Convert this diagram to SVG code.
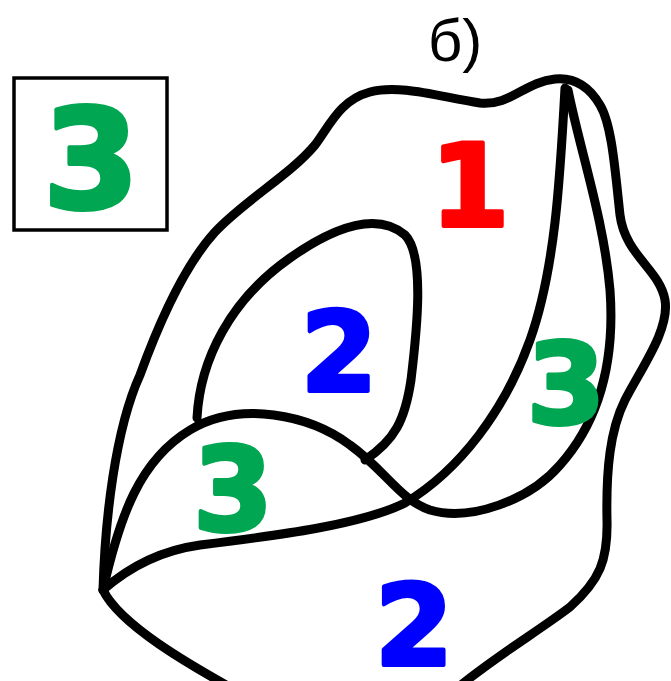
<svg xmlns="http://www.w3.org/2000/svg" width="671" height="681" viewBox="0 0 671 681">
<style>
.ln{fill:none;stroke:#000;stroke-width:9;stroke-linecap:round;stroke-linejoin:round}
.num{font-family:"DejaVu Sans","Liberation Sans",sans-serif;font-weight:bold;text-anchor:middle;stroke-width:4;stroke-linejoin:round}
.g{fill:#00a651;stroke:#00a651}.r{fill:#ff0000;stroke:#ff0000}.b{fill:#0000ff;stroke:#0000ff}
</style>
<rect width="671" height="681" fill="#fff"/>
<g id="legend-box">
<rect x="14" y="78" width="153" height="152" fill="none" stroke="#000" stroke-width="3.5"/>
<text class="num g" x="91" y="208" font-size="139">3</text>
</g>
<g id="caption">
<text x="428" y="61" font-family="Liberation Sans,Arial,sans-serif" font-size="60">б)</text>
</g>
<g id="connectors">
<path id="outline" class="ln" d="M235,690 C190,665 120,625 103,590 C105,520 115,430 140,375 C160,320 185,265 215,232 C245,200 290,175 315,145 C330,125 340,100 370,92 C400,84 440,97 480,103 C510,106 525,82 555,79 C575,77 590,88 600,105 C612,125 615,170 620,215 C625,255 660,270 665,300 C670,330 640,370 625,400 C610,430 606,470 607,520 C608,560 600,580 570,607 C540,630 490,660 455,690"/>
<path id="curve-a" class="ln" d="M565,88 C560,180 555,270 530,340 C505,410 460,470 405,503 C360,525 280,535 200,545 C150,552 120,575 103,590"/>
<path id="curve-b" class="ln" d="M103,590 C120,515 140,460 190,430 C240,400 310,415 350,445 C385,470 400,500 430,510 C470,522 530,500 560,465 C600,420 615,360 610,290 C604,220 580,150 568,90"/>
<path id="inner-loop" class="ln" d="M197,418 C200,360 230,300 290,258 C330,230 375,210 405,235 C425,255 417,330 411,380 C405,420 395,440 365,460"/>
</g>
<g id="region-1"><text class="num r" x="470" y="226" font-size="114">1</text></g>
<g id="region-2-upper"><text class="num b" x="339" y="391" font-size="110">2</text></g>
<g id="region-3-right"><text class="num g" x="566" y="423" font-size="113">3</text></g>
<g id="region-3-left"><text class="num g" x="233" y="530" font-size="115">3</text></g>
<g id="region-2-lower"><text class="num b" x="414" y="665" font-size="113">2</text></g>
</svg>
